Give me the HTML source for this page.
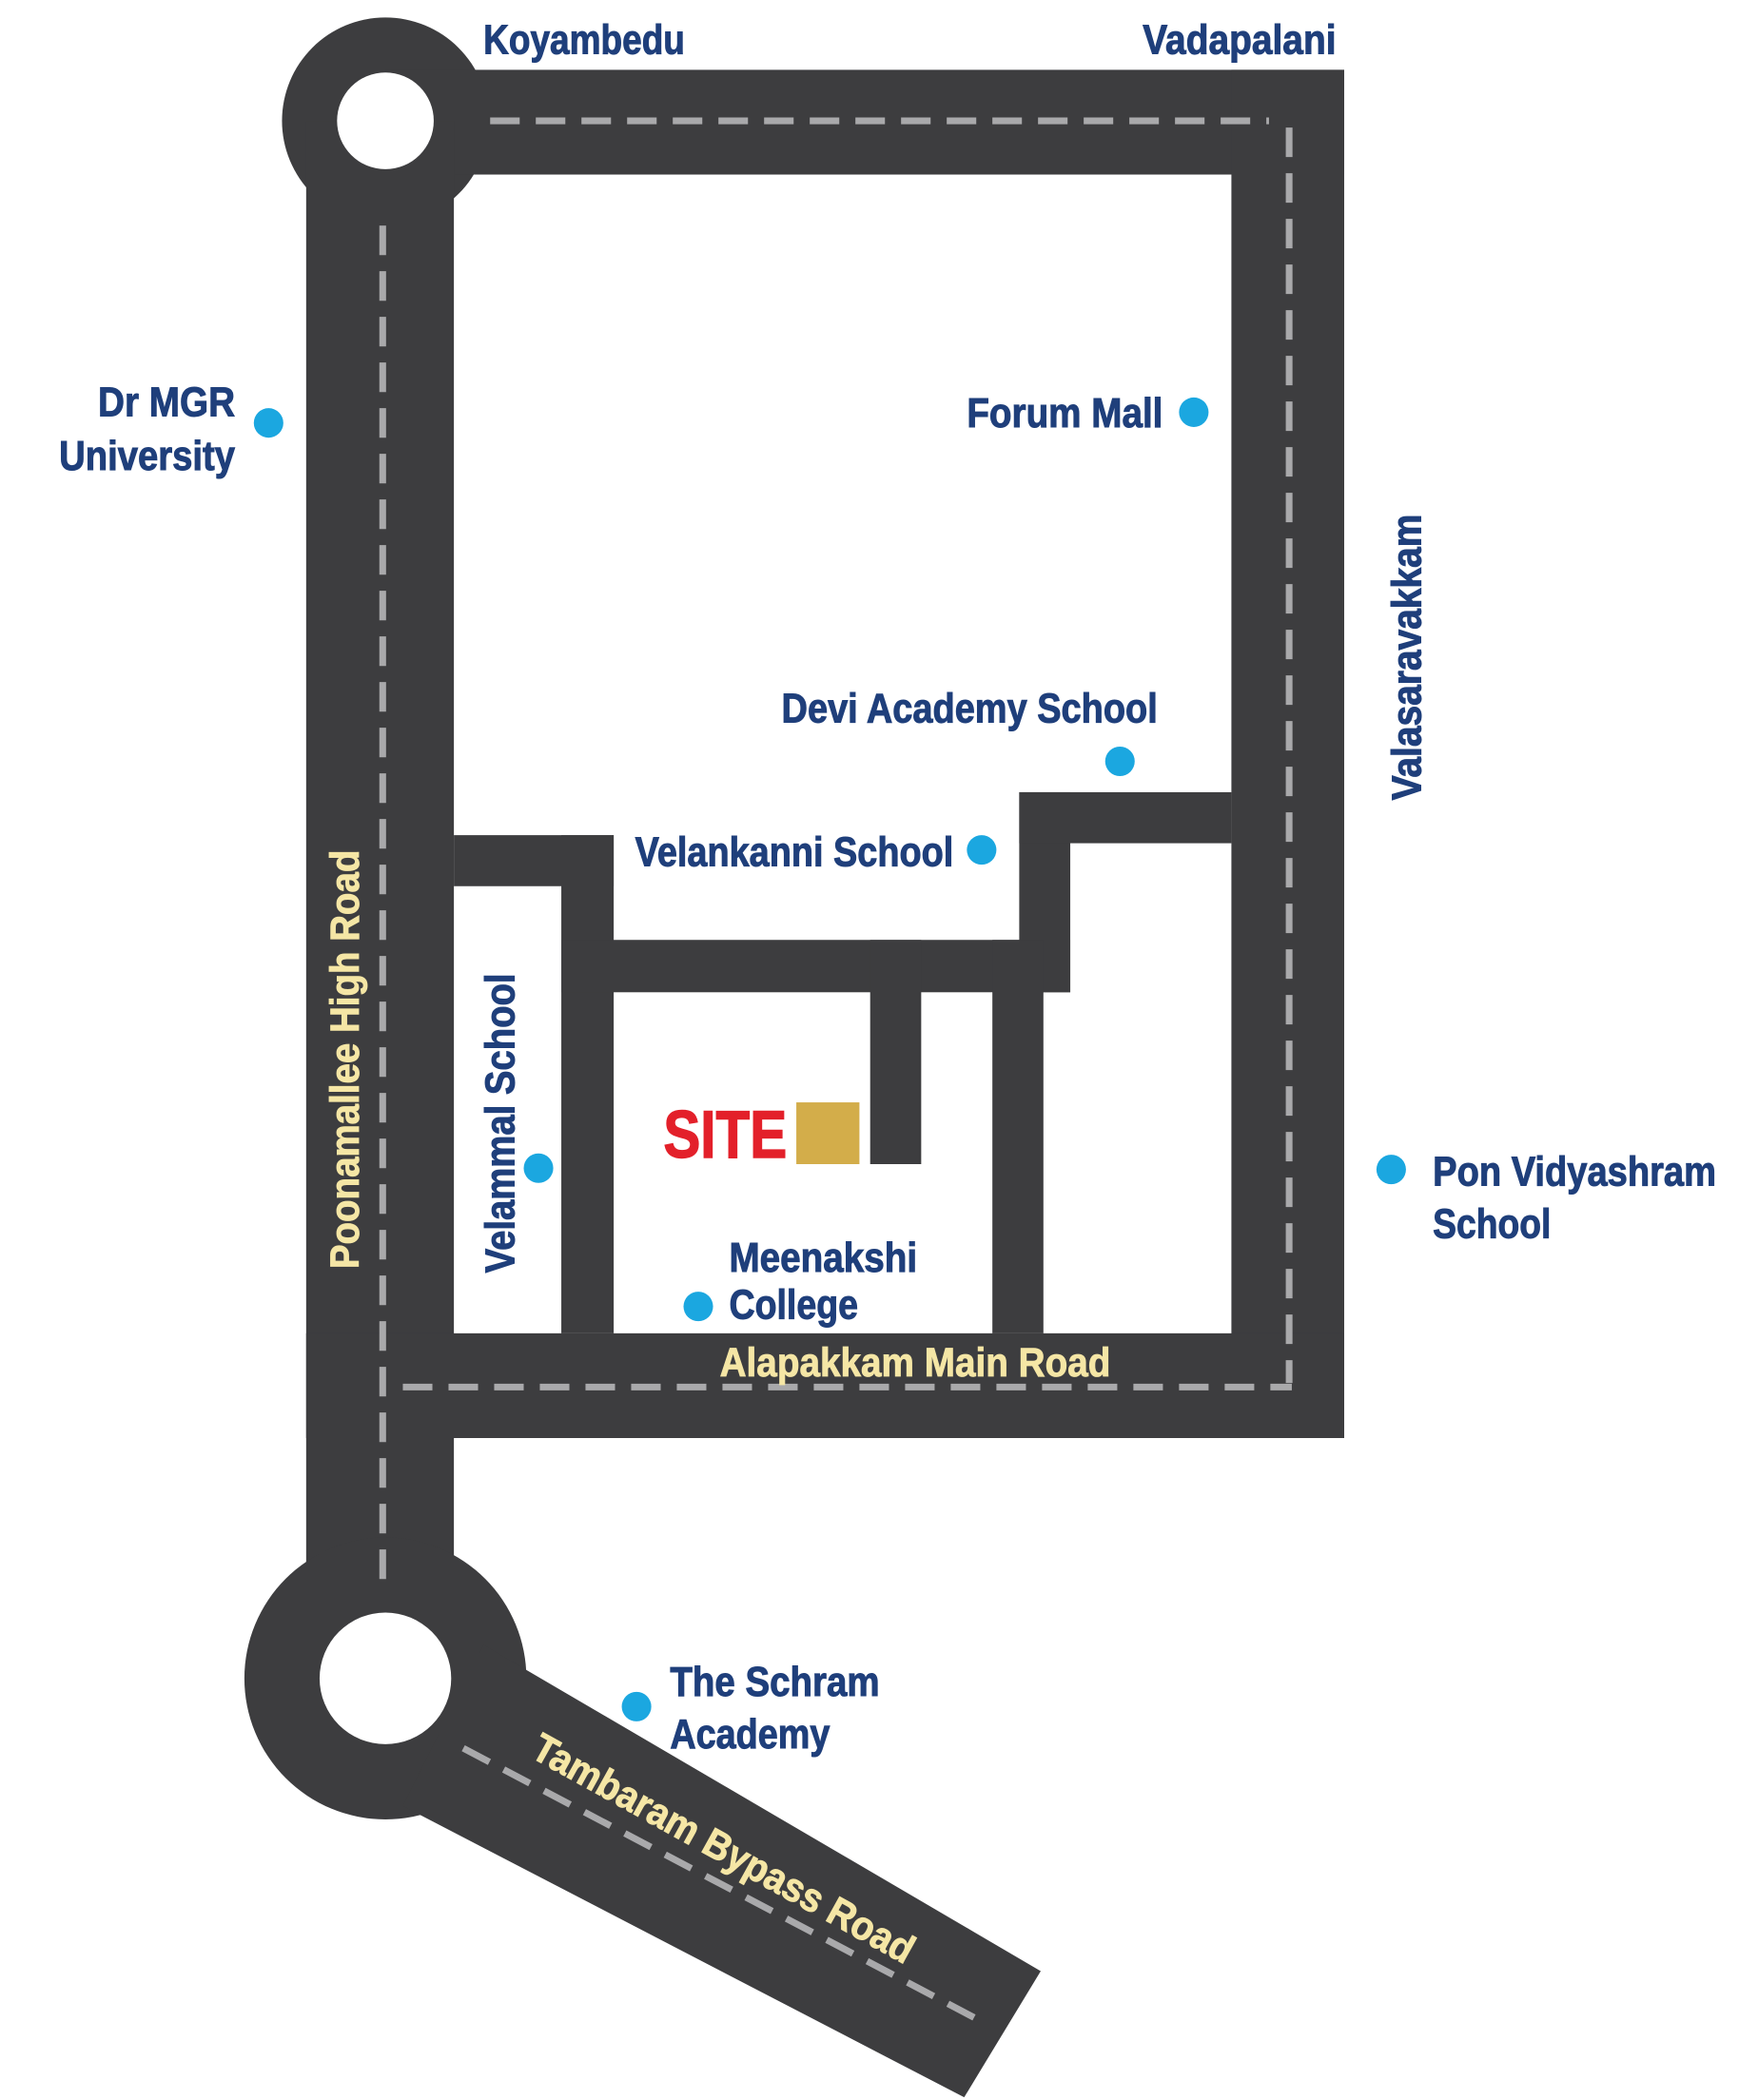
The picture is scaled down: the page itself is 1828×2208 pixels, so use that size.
<!DOCTYPE html>
<html><head><meta charset="utf-8"><style>
html,body{margin:0;padding:0;background:#fff;}
svg{display:block;}
text{font-family:"Liberation Sans Narrow","Liberation Sans",sans-serif;font-weight:bold;}
.n{fill:#1f3f7b;stroke:#1f3f7b;stroke-width:0.7px;font-size:31px;}
.c{fill:#f5e6a5;stroke:#f5e6a5;stroke-width:0.6px;font-size:30px;}
</style></head><body>
<svg width="1828" height="2208" viewBox="0 0 1295 1564" preserveAspectRatio="none" xmlns="http://www.w3.org/2000/svg">
<rect width="1295" height="1564" fill="#fff"/>
<g fill="#3d3d3f">
<circle cx="287" cy="90" r="77"/>
<rect x="287" y="52" width="714" height="78"/>
<rect x="917" y="52" width="84" height="1019"/>
<rect x="228" y="90" width="110" height="1110"/>
<rect x="228" y="993" width="773" height="78"/>
<rect x="338" y="622" width="119" height="38"/>
<rect x="418" y="622" width="39" height="371"/>
<rect x="418" y="700" width="379" height="39"/>
<rect x="759" y="590" width="38" height="149"/>
<rect x="759" y="590" width="158" height="38"/>
<rect x="739" y="700" width="38" height="293"/>
<rect x="648" y="700" width="38" height="167"/>
<circle cx="287" cy="1250" r="105"/>
<polygon points="360,1225 775,1468 718,1562 300,1345"/>
</g>
<circle cx="287" cy="90" r="36" fill="#fff"/>
<circle cx="287" cy="1250" r="49" fill="#fff"/>
<g stroke="#a9a9ab" stroke-width="5" fill="none" stroke-dasharray="22 12">
<line x1="365" y1="90" x2="945" y2="90"/>
<line x1="960" y1="95" x2="960" y2="1030"/>
<line x1="300" y1="1033" x2="962" y2="1033"/>
<line x1="285" y1="168" x2="285" y2="1180"/>
<line x1="345" y1="1302" x2="730" y2="1505"/>
</g>
<g fill="#1ba7e0">
<circle cx="200" cy="315" r="11"/>
<circle cx="889" cy="307" r="11"/>
<circle cx="834" cy="567" r="11"/>
<circle cx="731" cy="633" r="11"/>
<circle cx="401" cy="870" r="11"/>
<circle cx="520" cy="973" r="11"/>
<circle cx="1036" cy="871" r="11"/>
<circle cx="474" cy="1271" r="11"/>
</g>
<rect x="593" y="821" width="47" height="46" fill="#d3ad4a"/>
<text x="494" y="862" fill="#e3202a" stroke="#e3202a" stroke-width="1" font-size="50" textLength="92" lengthAdjust="spacingAndGlyphs">SITE</text>
<text class="n" x="360" y="40" textLength="150" lengthAdjust="spacingAndGlyphs">Koyambedu</text>
<text class="n" x="851" y="40" textLength="144" lengthAdjust="spacingAndGlyphs">Vadapalani</text>
<text class="n" x="73" y="310" textLength="102" lengthAdjust="spacingAndGlyphs">Dr MGR</text>
<text class="n" x="44" y="350" textLength="131" lengthAdjust="spacingAndGlyphs">University</text>
<text class="n" x="720" y="318" textLength="146" lengthAdjust="spacingAndGlyphs">Forum Mall</text>
<text class="n" x="582" y="538" textLength="280" lengthAdjust="spacingAndGlyphs">Devi Academy School</text>
<text class="n" x="473" y="645" textLength="237" lengthAdjust="spacingAndGlyphs">Velankanni School</text>
<text class="n" x="543" y="947" textLength="140" lengthAdjust="spacingAndGlyphs">Meenakshi</text>
<text class="n" x="543" y="982" textLength="96" lengthAdjust="spacingAndGlyphs">College</text>
<text class="n" x="1067" y="883" textLength="211" lengthAdjust="spacingAndGlyphs">Pon Vidyashram</text>
<text class="n" x="1067" y="922" textLength="88" lengthAdjust="spacingAndGlyphs">School</text>
<text class="n" x="499" y="1263" textLength="156" lengthAdjust="spacingAndGlyphs">The Schram</text>
<text class="n" x="499" y="1302" textLength="119" lengthAdjust="spacingAndGlyphs">Academy</text>
<text class="n" transform="translate(383,948) rotate(-90)" textLength="223" lengthAdjust="spacingAndGlyphs">Velammal School</text>
<text class="n" transform="translate(1058,596) rotate(-90)" textLength="213" lengthAdjust="spacingAndGlyphs">Valasaravakkam</text>
<text class="c" x="536" y="1025" textLength="291" lengthAdjust="spacingAndGlyphs">Alapakkam Main Road</text>
<text class="c" transform="translate(267,945) rotate(-90)" textLength="312" lengthAdjust="spacingAndGlyphs">Poonamallee High Road</text>
<text class="c" transform="translate(394,1308) rotate(29)" textLength="320" lengthAdjust="spacingAndGlyphs">Tambaram Bypass Road</text>
</svg>
</body></html>
